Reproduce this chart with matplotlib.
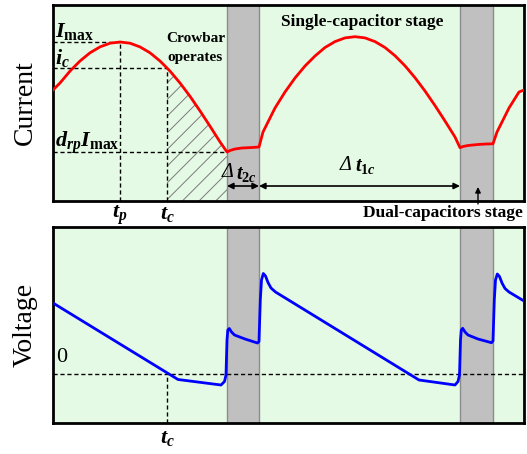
import numpy as np
import matplotlib
matplotlib.use("Agg")
import matplotlib.pyplot as plt

plt.rcParams['font.family'] = ['Liberation Serif', 'DejaVu Serif']
plt.rcParams['mathtext.fontset'] = 'custom'
plt.rcParams['mathtext.rm'] = 'Liberation Serif:bold'
plt.rcParams['mathtext.it'] = 'Liberation Serif:italic:bold'
plt.rcParams['mathtext.bf'] = 'Liberation Serif:bold'
plt.rcParams['hatch.linewidth'] = 0.7

# ---- current waveform (arbitrary units) ----
t_cur = [0.0, 0.7, 1.7, 2.7, 3.7, 4.7, 5.7, 6.7, 7.7, 8.7, 9.7, 10.7, 11.4,
         11.7, 12.7, 13.7, 14.7, 15.7, 16.7, 17.4,
         17.7, 18.2, 18.9, 19.9, 20.6,
         21.0, 21.7, 22.2, 23.2, 24.2, 25.2, 26.2, 27.2, 28.2, 29.2, 30.2,
         31.2, 32.2, 33.2, 34.2, 35.2, 36.2, 37.2, 38.2, 39.2, 40.2, 40.7,
         41.0, 41.5, 42.5, 43.3, 44.0,
         44.4, 45.1, 45.6, 46.6, 47.1]
i_cur = [11.1, 11.8, 12.99, 14.0, 14.82, 15.41, 15.78, 15.9, 15.78, 15.41, 14.82, 14.0, 13.3,
         12.99, 11.8, 10.47, 9.01, 7.48, 5.91, 4.9,
         5.05, 5.2, 5.3, 5.35, 5.4,
         6.9, 8.3, 9.3, 10.9, 12.3, 13.5, 14.5, 15.35, 15.94, 16.31, 16.43,
         16.31, 15.94, 15.35, 14.53, 13.52, 12.33, 11.0, 9.54, 8.0, 6.4, 5.33,
         5.45, 5.55, 5.65, 5.7, 5.72,
         6.9, 8.3, 9.3, 10.9, 11.1]

# ---- voltage waveform ----
t_vol = [0.0, 12.5, 16.8, 17.15, 17.3, 17.4, 17.48, 17.63, 17.85, 18.15, 19.2, 20.45,
         20.6, 20.73, 20.85, 21.03, 21.25, 21.5, 21.8, 22.25,
         36.6, 40.2, 40.5, 40.65, 40.75, 40.83, 40.97, 41.2, 41.5, 42.5, 43.85,
         44.0, 44.13, 44.25, 44.43, 44.65, 44.9, 45.2, 45.6, 47.1]
v_vol = [7.1, -0.55, -1.1, -0.75, -0.1, 3.4, 4.4, 4.55, 4.2, 3.9, 3.5, 3.1,
         3.25, 7.4, 9.4, 10.05, 9.8, 9.15, 8.6, 8.2,
         -0.6, -1.1, -0.75, -0.1, 3.4, 4.4, 4.57, 4.2, 3.9, 3.5, 3.13,
         3.3, 7.4, 9.4, 10.0, 9.75, 9.1, 8.55, 8.2, 7.3]

# key instants and levels
t_p = 6.7
t_c = 11.4
I_max = 15.9
i_c = 13.3
drp_Imax = 4.9
dual_stages = [(17.4, 20.6), (40.7, 44.0)]
t_end = 47.1

bg = '#e5fae5'
gray = '#c0c0c0'
dash = (0, (3, 2))

fig = plt.figure(figsize=(5.27, 4.54), dpi=100)
ax1 = fig.add_axes([53 / 527, 1 - 201 / 454, 471 / 527, 196 / 454])
ax2 = fig.add_axes([53 / 527, 1 - 423 / 454, 471 / 527, 196 / 454])

for ax in (ax1, ax2):
    ax.set_facecolor(bg)
    ax.set_xlim(0, t_end)
    ax.set_xticks([])
    ax.set_yticks([])
    for s in ax.spines.values():
        s.set_linewidth(2)
    for a, b in dual_stages:
        ax.axvspan(a, b, facecolor=gray, edgecolor='#8c8c8c', lw=1, zorder=1)

# ---------- current ----------
ax1.set_ylim(0, 19.6)
ax1.plot(t_cur, i_cur, color='red', lw=2, zorder=4)

# crowbar area (hatched)
k0 = t_cur.index(t_c)
k1 = t_cur.index(dual_stages[0][0])
ax1.fill_between(t_cur[k0:k1 + 1], i_cur[k0:k1 + 1], 0, facecolor='none',
                 edgecolor='#7a7a7a', hatch='//', linewidth=0, zorder=2)

ax1.plot([0, t_p], [I_max, I_max], 'k', ls=dash, lw=1, zorder=3)
ax1.plot([0, t_c], [i_c, i_c], 'k', ls=dash, lw=1, zorder=3)
ax1.plot([0, dual_stages[0][0]], [drp_Imax, drp_Imax], 'k', ls=dash, lw=1, zorder=3)
ax1.plot([t_p, t_p], [0, I_max], 'k', ls=dash, lw=1, zorder=3)
ax1.plot([t_c, t_c], [0, i_c], 'k', ls=dash, lw=1, zorder=3)

ax1.text(0.2, 16.4, r'$I_{\mathbf{max}}$', fontsize=16, va='baseline')
ax1.text(0.2, 13.7, r'$i_c$', fontsize=16, va='baseline')
ax1.text(0.2, 5.4, r'$d_{rp}I_{\mathbf{max}}$', fontsize=16, va='baseline')
ax1.text(14.25, 15.35, 'Crowbar\noperates', fontsize=11, fontweight='bold',
         ha='center', va='center', linespacing=1.6)
ax1.text(30.9, 17.9, 'Single-capacitor stage', fontsize=12.5, fontweight='bold',
         ha='center', va='center')

arr = dict(arrowstyle='<|-|>', color='black', lw=1.2, mutation_scale=9,
           shrinkA=0, shrinkB=0)
ax1.annotate('', xy=(dual_stages[0][0], 1.5), xytext=(dual_stages[0][1], 1.5),
             arrowprops=arr, zorder=5)
ax1.annotate('', xy=(dual_stages[0][1], 1.5), xytext=(dual_stages[1][0], 1.5),
             arrowprops=arr, zorder=5)

# interval labels: italic delta followed by the bold-italic symbol
ax1.text(17.45, 2.85, 'Δ', fontsize=14.5, fontstyle='italic', ha='center', va='center')
ax1.text(19.35, 2.7, r'$t_{2c}$', fontsize=14.5, ha='center', va='center')
ax1.text(29.3, 3.55, 'Δ', fontsize=14.5, fontstyle='italic', ha='center', va='center')
ax1.text(31.2, 3.4, r'$t_{1c}$', fontsize=14.5, ha='center', va='center')

mid2 = 42.5
ax1.annotate('', xy=(mid2, 1.4), xytext=(mid2, -0.3), annotation_clip=False,
             arrowprops=dict(arrowstyle='-|>', color='black', lw=1, mutation_scale=8,
                             shrinkA=0, shrinkB=0))
ax1.text(47.0, -1.2, 'Dual-capacitors stage', fontsize=12.5, fontweight='bold',
         ha='right', va='center', clip_on=False)

ax1.text(t_p, -1.4, r'$t_p$', fontsize=16, ha='center', va='center', clip_on=False)
ax1.text(t_c, -1.4, r'$t_c$', fontsize=16, ha='center', va='center', clip_on=False)

ax1.set_ylabel('Current', fontsize=20)
ax1.yaxis.set_label_coords(-0.033, 0.5)

# ---------- voltage ----------
ax2.set_ylim(-4.9, 14.7)
ax2.plot(t_vol, v_vol, color='blue', lw=2, zorder=4)
ax2.plot([0, t_end], [0, 0], 'k', ls=dash, lw=1, zorder=3)
ax2.plot([t_c, t_c], [-4.9, 0], 'k', ls=dash, lw=1, zorder=3)
ax2.text(0.9, 1.6, '0', fontsize=16, ha='center', va='center')
ax2.text(t_c, -6.5, r'$t_c$', fontsize=16, ha='center', va='center', clip_on=False)

ax2.set_ylabel('Voltage', fontsize=20)
ax2.yaxis.set_label_coords(-0.033, 0.5)

plt.savefig('out.png', dpi=100)
